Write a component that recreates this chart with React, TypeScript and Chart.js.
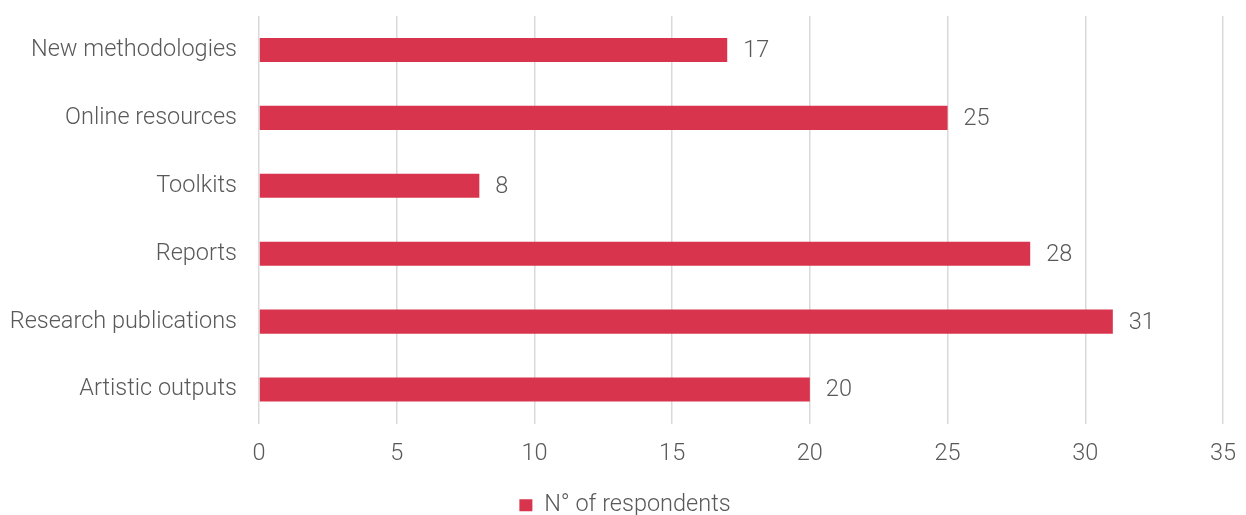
import React, { useEffect, useRef } from "react";
import { Chart, registerables } from "chart.js";

Chart.register(...registerables);

const categories = [
  "New methodologies",
  "Online resources",
  "Toolkits",
  "Reports",
  "Research publications",
  "Artistic outputs",
];
const respondents = [17, 25, 8, 28, 31, 20];
const seriesLabel = "N° of respondents";
const xMin = 0;
const xMax = 35;
const xStep = 5;

const FONT = "Roboto";
const FS = 23.5;
const TEXT = "#595959";
const BAR = "#D9344D";

const valueLabels = {
  id: "valueLabels",
  afterDatasetsDraw(chart: any) {
    const { ctx } = chart;
    const meta = chart.getDatasetMeta(0);
    ctx.save();
    ctx.font = `300 ${FS}px ${FONT}`;
    ctx.fillStyle = TEXT;
    ctx.textAlign = "left";
    ctx.textBaseline = "middle";
    meta.data.forEach((el: any, i: number) => {
      ctx.fillText(String(chart.data.datasets[0].data[i]), el.x + 16, el.y + 1);
    });
    ctx.restore();
  },
};

export default function App() {
  const ref = useRef<HTMLCanvasElement>(null);
  useEffect(() => {
    if (!ref.current) return;
    const chart = new Chart(ref.current, {
      type: "bar",
      data: {
        labels: categories,
        datasets: [
          {
            label: seriesLabel,
            data: respondents,
            backgroundColor: BAR,
            borderWidth: 0,
            barPercentage: 0.355,
            categoryPercentage: 1,
          },
        ],
      },
      plugins: [valueLabels],
      options: {
        indexAxis: "y",
        animation: false,
        responsive: false,
        maintainAspectRatio: false,
        layout: { padding: { top: 16, right: 0, bottom: -12, left: 4 } },
        plugins: {
          tooltip: { enabled: false },
          legend: {
            position: "bottom",
            labels: {
              boxWidth: 13,
              boxHeight: 12,
              padding: 8,
              color: TEXT,
              font: { family: FONT, size: FS, weight: "300" },
            },
          },
        },
        scales: {
          x: {
            min: xMin,
            max: xMax,
            ticks: {
              stepSize: xStep,
              color: TEXT,
              padding: 17,
              font: { family: FONT, size: FS, weight: "300" },
            },
            grid: { color: "#d9d9d9", lineWidth: 1.5, drawTicks: false },
            border: { display: false },
            afterFit(scale: any) {
              scale.height = 62;
              scale.paddingLeft = 0;
              scale.paddingRight = 23;
            },
          },
          y: {
            ticks: {
              color: TEXT,
              padding: 22,
              font: { family: FONT, size: FS, weight: "300" },
            },
            grid: { display: false, drawTicks: false },
            border: { display: false },
            afterFit(scale: any) {
              scale.width = 255;
              scale.paddingTop = 0;
              scale.paddingBottom = 0;
            },
          },
        },
      },
    });
    return () => chart.destroy();
  }, []);
  return (
    <div style={{ position: "fixed", left: 0, top: 0, width: 1246, height: 515, background: "#fff" }}>
      <canvas ref={ref} width={1246} height={515} style={{ width: 1246, height: 515 }} />
    </div>
  );
}
